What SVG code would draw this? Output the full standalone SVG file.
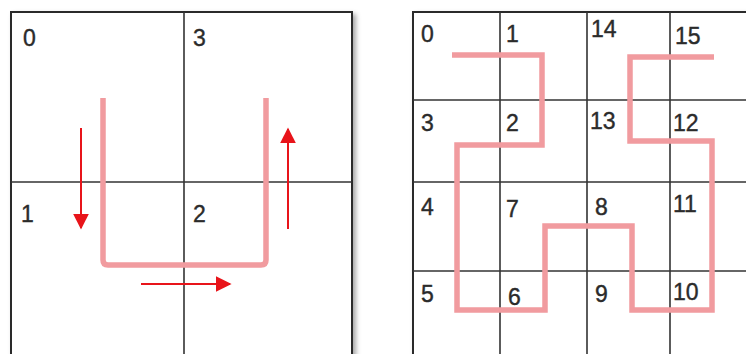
<svg xmlns="http://www.w3.org/2000/svg" width="746" height="354" viewBox="0 0 746 354">
<style>
.grid{fill:none;stroke:#333;stroke-width:1.6}
.outer{fill:#fff;stroke:#2a2a2a;stroke-width:2}
.lbl{font-family:"Liberation Sans",Arial,sans-serif;font-size:23px;fill:#2b2b2b;stroke:#2b2b2b;stroke-width:0.4}
.path{fill:none;stroke:#f19b9f;stroke-width:5.5;stroke-linecap:butt}
.arr{fill:none;stroke:#e8141a;stroke-width:2}
</style>
<defs>
<filter id="sh" x="-10%" y="-10%" width="120%" height="120%">
<feDropShadow dx="3" dy="3" stdDeviation="2.5" flood-color="#000" flood-opacity="0.35"/>
</filter>
<marker id="ah" viewBox="0 0 10 10" refX="9" refY="5" markerWidth="8" markerHeight="8" orient="auto" markerUnits="strokeWidth">
<path d="M0,0 L10,5 L0,10 Z" fill="#e8141a"/>
</marker>
</defs>
<rect width="746" height="354" fill="#fff"/>
<g id="left-grid">
<rect class="outer" x="11" y="12" width="341" height="350" filter="url(#sh)"/>
<line class="grid" x1="184" y1="12" x2="184" y2="354"/>
<line class="grid" x1="11" y1="182" x2="352" y2="182"/>
<text class="lbl" x="23" y="46">0</text>
<text class="lbl" x="193" y="46">3</text>
<text class="lbl" x="21" y="222">1</text>
<text class="lbl" x="193" y="222">2</text>
</g>
<g id="right-grid">
<rect class="outer" x="413" y="12" width="345" height="350" filter="url(#sh)"/>
<line class="grid" x1="500" y1="12" x2="500" y2="354"/>
<line class="grid" x1="587" y1="12" x2="587" y2="354"/>
<line class="grid" x1="670" y1="12" x2="670" y2="354"/>
<line class="grid" x1="413" y1="100" x2="746" y2="100"/>
<line class="grid" x1="413" y1="182" x2="746" y2="182"/>
<line class="grid" x1="413" y1="271" x2="746" y2="271"/>
<text class="lbl" x="421" y="42">0</text>
<text class="lbl" x="506" y="42">1</text>
<text class="lbl" x="591" y="37">14</text>
<text class="lbl" x="675" y="44">15</text>
<text class="lbl" x="421" y="131">3</text>
<text class="lbl" x="506" y="131">2</text>
<text class="lbl" x="590" y="129">13</text>
<text class="lbl" x="673" y="131">12</text>
<text class="lbl" x="421" y="215">4</text>
<text class="lbl" x="506" y="217">7</text>
<text class="lbl" x="595" y="215">8</text>
<text class="lbl" x="673" y="212">11</text>
<text class="lbl" x="421" y="302">5</text>
<text class="lbl" x="508" y="305">6</text>
<text class="lbl" x="595" y="302">9</text>
<text class="lbl" x="673" y="300">10</text>
</g>
<g id="connectors">
<path class="path" d="M103,98 V260 Q103,265 108,265 H261 Q266,265 266,260 V98"/>
<line class="arr" x1="81" y1="128" x2="81" y2="228" marker-end="url(#ah)"/>
<line class="arr" x1="288" y1="229" x2="288" y2="129" marker-end="url(#ah)"/>
<line class="arr" x1="141" y1="284" x2="230" y2="284" marker-end="url(#ah)"/>
<path class="path" stroke-linejoin="miter" d="M452,55 H542 V145 H457 V310 H545 V226 H632 V310 H712 V141 H630 V57 H714"/>
</g>
</svg>
